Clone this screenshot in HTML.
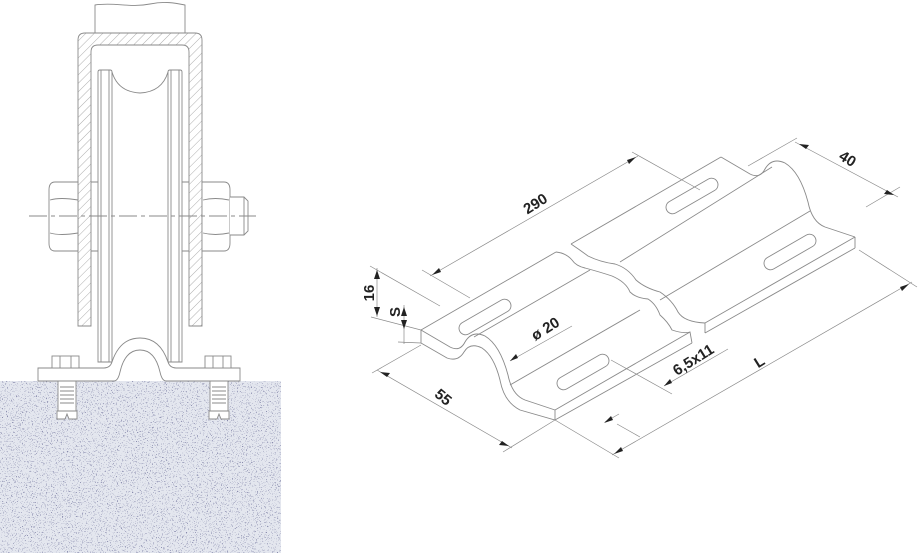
<!DOCTYPE html>
<html><head><meta charset="utf-8"><style>
html,body{margin:0;padding:0;background:#fff;width:920px;height:554px;overflow:hidden}
svg{display:block}
text{font-family:"Liberation Sans",sans-serif;font-weight:bold;font-size:15px;fill:#222}
</style></head><body>
<svg width="920" height="554" viewBox="0 0 920 554" xmlns="http://www.w3.org/2000/svg">
<defs>
<pattern id="hatch" width="6" height="6" patternUnits="userSpaceOnUse" patternTransform="rotate(45)">
<rect width="6" height="6" fill="#fff"/><line x1="0" y1="0" x2="0" y2="6" stroke="#999" stroke-width="0.8"/></pattern>
<filter id="spk" x="0" y="0" width="100%" height="100%">
<feTurbulence type="fractalNoise" baseFrequency="0.8" numOctaves="2" seed="7" result="n"/>
<feColorMatrix in="n" type="matrix" values="0 0 0 0 0.25  0 0 0 0 0.26  0 0 0 0 0.42  14 0 0 0 -8.8"/>
</filter>
<filter id="spk2" x="0" y="0" width="100%" height="100%">
<feTurbulence type="fractalNoise" baseFrequency="0.9" numOctaves="1" seed="3" result="n"/>
<feColorMatrix in="n" type="matrix" values="0 0 0 0 0.7  0 0 0 0 0.72  0 0 0 0 0.8  0 3 0 0 -1.7"/>
</filter>
<path id="prof" d="M421,330 L450,347 Q460,352 465,342 Q472,330 485,336 Q500,345 508,375 Q512,395 525,400 L555,410"/>
</defs>
<g fill="none" stroke="#8a8a8a" stroke-width="0.9">
<!-- concrete -->
<rect x="0" y="381" width="281" height="172" fill="#e4e7ef" stroke="none"/>
<rect x="0" y="381" width="281" height="172" fill="#000" stroke="none" filter="url(#spk2)"/>
<rect x="0" y="381" width="281" height="172" fill="#000" stroke="none" filter="url(#spk)"/>
<!-- anchors -->
<rect x="58" y="381" width="18" height="30" fill="#fff"/>
<rect x="210" y="381" width="18" height="30" fill="#fff"/>
<path d="M60,387 h14 M60,391 h14 M60,395 h14 M60,399 h14 M60,403 h14 M212,387 h14 M212,391 h14 M212,395 h14 M212,399 h14 M212,403 h14"/>
<path d="M57,411 h20 v8 h-8 l-2,-5 -2,5 h-8z M209,411 h20 v8 h-8 l-2,-5 -2,5 h-8z" fill="#fff"/>
<!-- top stub -->
<path d="M95,33 V5 C115,2 130,8 150,4 C165,1 175,3 185,5 V33" fill="#fff"/>
<!-- housing -->
<path d="M78,326 V40 Q78,33 85,33 H195 Q202,33 202,40 V326 H189 V52 Q189,45 182,45 H98 Q91,45 91,52 V326 Z" fill="url(#hatch)"/>
<!-- wheel -->
<path d="M98,362 V72 Q98,70 100,70 H110 Q112,70 112,72 V362 Z M168,362 V72 Q168,70 170,70 H180 Q182,70 182,72 V362 Z" fill="#fff"/>
<path d="M101,70 V362 M109,70 V362 M171,70 V362 M179,70 V362"/>
<path d="M112,72 Q118,92 140,93 Q162,92 168,72"/>
<path d="M91,182 H98 M91,251 H98 M182,182 H189 M182,251 H189"/>
<!-- nuts -->
<path d="M78,182 H55 Q49,182 49,190 V243 Q49,251 55,251 H78 Z" fill="#fff"/>
<path d="M50,200 Q60,197 78,200 M50,233 Q60,236 78,233"/>
<path d="M202,182 H224 Q230,182 230,190 V243 Q230,251 224,251 H202 Z" fill="#fff"/>
<path d="M203,200 Q215,197 229,200 M203,233 Q215,236 229,233"/>
<path d="M230,197 H244 L248,201 V231 L244,235 H230 M244,197 V235" fill="#fff"/>
<!-- centre line -->
<path d="M29,216 H256" stroke-dasharray="18,4,4,4"/>
<!-- base plate -->
<path d="M38,381 V368 H104 Q110,368 112,362 Q120,338 140,338 Q160,338 168,362 Q170,368 176,368 H240 V381 H166 Q162,381 160,372 Q155,350 140,350 Q125,350 120,372 Q118,381 114,381 Z" fill="#fff"/>
<rect x="52" y="356" width="27" height="12" fill="#fff"/><path d="M60,356 V368 M71,356 V368"/>
<rect x="205" y="356" width="26" height="12" fill="#fff"/><path d="M213,356 V368 M223,356 V368"/>
</g>

<!-- RIGHT: rail plate -->
<g fill="none" stroke="#8a8a8a" stroke-width="0.9">
<use href="#prof"/>
<path d="M421,330 V343 L447,358 Q458,362 464,352 Q470,342 482,348 Q494,356 500,380 Q504,402 520,410 L555,420 V410"/>
<path d="M421,330 L556,252 M474,337 L590,270 M510,385 L640,310 M555,410 L690,332 M555,420 L692,343"/>
<path d="M571,244 L721,157 M620,262 L772,167 M660,300 L810,211 M705,323 L855,237 M705,333 L855,248"/>
<use href="#prof" transform="translate(300,-173)"/>
<path d="M855,237 V248"/>
<path d="M556,252 Q566,253 572,260 Q576,266 585,268 Q600,272 612,276 Q626,282 630,292 Q636,298 648,299 Q656,304 660,315 Q668,322 672,330 Q684,334 690,332 L692,343"/>
<path d="M571,244 Q580,250 588,256 Q600,262 615,264 Q628,268 636,280 Q645,288 660,292 Q672,300 678,312 Q684,322 705,323 V333"/>
<g fill="#fff">
<rect x="-29" y="-6.5" width="58" height="13" rx="6.5" transform="translate(485,317) rotate(-30)"/>
<rect x="-29" y="-6.5" width="58" height="13" rx="6.5" transform="translate(692,196) rotate(-30)"/>
<rect x="-29" y="-6.5" width="58" height="13" rx="6.5" transform="translate(583,372) rotate(-30)"/>
<rect x="-29" y="-6.5" width="58" height="13" rx="6.5" transform="translate(790,252) rotate(-30)"/>
</g>
</g>

<g fill="none" stroke="#8a8a8a" stroke-width="0.7">
<path d="M430,276 L638,156 M422,270 L470,298 M632,152 L700,190"/>
<path d="M795,142 L898,197 M797,138 L748,166 M900,187 L866,207"/>
<path d="M612,455 L912,282 M859,250 L917,287 M555,420 L619,458"/>
<path d="M377,370 L512,448 M372,373 L421,345 M503,452 L555,420"/>
<path d="M377,268 V317 M370,266 L440,306 M371,317 L421,330"/>
<path d="M404,305 V344 M398,342 L421,343"/>
<path d="M572,326 L510,361"/>
<path d="M728,349 L664,386 M605,422 L619,414 M611,360 L672,394 M617,424 L640,437"/>
</g>
<g fill="#222">
<path d="M432,275 l7,-7 l2,4z M636,157 l-7,7 l-2,-4z"/>
<path d="M799,144 l10,1 l-3,4z M894,195 l-10,-1 l3,-4z"/>
<path d="M614,454 l7,-7 l2,4z M909,284 l-7,7 l-2,-4z"/>
<path d="M380,372 l10,1 l-3,4z M509,446 l-10,-1 l3,-4z"/>
<path d="M377,270 l-3,9 h6z M377,316 l-3,-9 h6z"/>
<path d="M404,307 l-3,9 h6z M404,329 l-3,-9 h6z"/>
<path d="M510,361 l6,-7 l2,4z"/>
<path d="M664,386 l6,-7 l2,4z M604,423 l7,-7 l2,4z"/>
</g>
<text transform="translate(538,208) rotate(-32)" text-anchor="middle">290</text>
<text transform="translate(845,163) rotate(32)" text-anchor="middle">40</text>
<text transform="translate(762,366) rotate(-32)" text-anchor="middle">L</text>
<text transform="translate(440,401) rotate(40)" text-anchor="middle">55</text>
<text transform="translate(374,293) rotate(-90)" text-anchor="middle">16</text>
<text transform="translate(400,312) rotate(-90)" text-anchor="middle">S</text>
<text transform="translate(548,333) rotate(-32)" text-anchor="middle">ø 20</text>
<text transform="translate(696,364) rotate(-32)" text-anchor="middle">6,5x11</text>
</svg>
</body></html>
